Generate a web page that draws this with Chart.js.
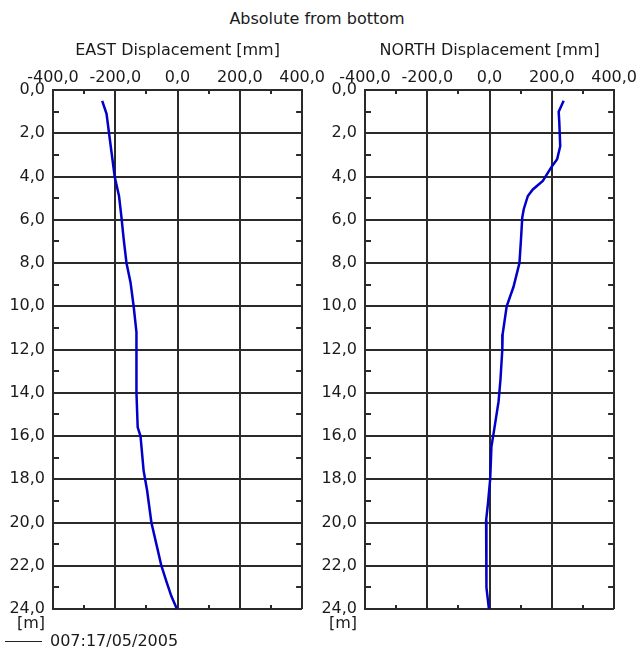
<!DOCTYPE html>
<html>
<head>
<meta charset="utf-8">
<title>Absolute from bottom</title>
<script src="https://cdn.jsdelivr.net/npm/chart.js@4.4.0/dist/chart.umd.min.js"></script>
<style>
    body { margin: 0; background: #fff; font-family: 'DejaVu Sans', sans-serif; color: #1a1a1a; }
    #page { position: relative; width: 640px; height: 653px; overflow: hidden; }
    #mainTitle { position: absolute; left: 0; top: 9px; width: 634px; text-align: center; font-size: 16px; line-height: 20px; }
    canvas { position: absolute; top: 0; }
    #eastChart { left: 0; }
    #northChart { left: 312px; }
    #legend { position: absolute; left: 5px; top: 631px; font-size: 16px; line-height: 20px; white-space: nowrap; }
    #legend .swatch { display: inline-block; width: 37px; border-top: 1px solid #222; vertical-align: middle; margin-right: 8px; }
</style>
</head>
<body>
<div id="page">
    <div id="mainTitle">Absolute from bottom</div>
    <canvas id="eastChart" width="328" height="653"></canvas>
    <canvas id="northChart" width="328" height="653"></canvas>
    <div id="legend"><span class="swatch"></span>007:17/05/2005</div>
</div>

<script>
// tick values
const xTicks = [-400, -200, 0, 200, 400];
const xMinorTicks = [-300, -100, 100, 300];
const depthTicks = [0, 2, 4, 6, 8, 10, 12, 14, 16, 18, 20, 22, 24];
const depthMinorTicks = [1, 3, 5, 7, 9, 11, 13, 15, 17, 19, 21, 23];

// EAST displacement [mm] against depth [m]
const eastDepth = [0.5, 1.1, 2.0, 3.1, 4.0, 4.9, 5.9, 6.9, 8.0, 8.9, 10.0, 11.2, 14.0, 15.6, 16.0, 17.6, 18.5, 20.0, 21.0, 22.0, 22.8, 23.4, 24.0];
const eastValues = [-242, -228, -220, -210, -202, -188, -180, -173, -164, -151, -141, -132, -132, -128, -119, -109, -98, -84, -68, -52, -34, -20, -2];

// NORTH displacement [mm] against depth [m]
const northDepth = [0.5, 1.0, 1.5, 2.6, 3.2, 3.6, 4.2, 4.6, 4.9, 5.5, 5.9, 6.9, 8.0, 9.1, 10.0, 11.3, 12.0, 13.4, 14.4, 15.6, 16.5, 18.0, 19.1, 19.9, 21.9, 23.0, 24.0];
const northValues = [238, 222, 224, 227, 217, 197, 171, 139, 123, 110, 105, 101, 96, 77, 55, 42, 41, 35, 29, 16, 6, 2, -5, -11, -11, -9, -2];

const textColor = '#1a1a1a';
const lineColor = '#2a2a2a';
const seriesColor = '#0000c8';

Chart.defaults.font.family = "'DejaVu Sans', sans-serif";
Chart.defaults.font.size = 16;
Chart.defaults.color = textColor;

function fmt(v) {
    return Number(v).toFixed(1).replace('.', ',');
}

// small inward ticks between the grid lines, and the [m] unit under the depth axis
const frameExtras = {
    id: 'frameExtras',
    afterDraw(chart) {
        const ctx = chart.ctx;
        const area = chart.chartArea;
        const xs = chart.scales.x;
        const ys = chart.scales.y;
        ctx.save();
        ctx.strokeStyle = lineColor;
        ctx.lineWidth = 2;
        ctx.beginPath();
        xMinorTicks.forEach(v => {
            const px = Math.round(xs.getPixelForValue(v));
            ctx.moveTo(px, area.top);
            ctx.lineTo(px, area.top + 4);
            ctx.moveTo(px, area.bottom);
            ctx.lineTo(px, area.bottom - 4);
        });
        depthMinorTicks.forEach(v => {
            const py = Math.round(ys.getPixelForValue(v));
            ctx.moveTo(area.left, py);
            ctx.lineTo(area.left + 6, py);
            ctx.moveTo(area.right, py);
            ctx.lineTo(area.right - 6, py);
        });
        ctx.stroke();

        ctx.fillStyle = textColor;
        ctx.font = "16px 'DejaVu Sans', sans-serif";
        ctx.textAlign = 'right';
        ctx.textBaseline = 'middle';
        ctx.fillText('[m]', ys.right - 8, ys.getPixelForValue(24) + 15);
        ctx.restore();
    }
};

function makeProfile(canvasId, title, depth, values) {
    return new Chart(document.getElementById(canvasId), {
        type: 'scatter',
        data: {
            datasets: [{
                label: '007:17/05/2005',
                data: values.map((v, i) => ({ x: v, y: depth[i] })),
                showLine: true,
                borderColor: seriesColor,
                borderWidth: 2.5,
                pointRadius: 0,
                tension: 0
            }]
        },
        options: {
            responsive: false,
            animation: false,
            layout: { padding: { top: 35, right: 25, bottom: 44, left: 0 } },
            plugins: {
                legend: { display: false },
                tooltip: { enabled: false }
            },
            scales: {
                x: {
                    type: 'linear',
                    position: 'top',
                    min: -400,
                    max: 400,
                    afterBuildTicks: s => { s.ticks = xTicks.map(v => ({ value: v })); },
                    afterFit: s => { s.height = 55; },
                    ticks: { padding: 3, maxRotation: 0, autoSkip: false, callback: fmt },
                    grid: { color: lineColor, lineWidth: 2, drawTicks: false },
                    border: { color: lineColor, width: 2 },
                    title: { display: true, text: title, padding: { top: 6, bottom: 0 } }
                },
                y: {
                    type: 'linear',
                    reverse: true,
                    min: 0,
                    max: 24,
                    afterBuildTicks: s => { s.ticks = depthTicks.map(v => ({ value: v })); },
                    afterFit: s => { s.width = 53; },
                    ticks: { padding: 8, autoSkip: false, callback: fmt },
                    grid: { color: lineColor, lineWidth: 2, drawTicks: false },
                    border: { color: lineColor, width: 2 }
                }
            }
        },
        plugins: [frameExtras]
    });
}

makeProfile('eastChart', 'EAST Displacement [mm]', eastDepth, eastValues);
makeProfile('northChart', 'NORTH Displacement [mm]', northDepth, northValues);
</script>
</body>
</html>
